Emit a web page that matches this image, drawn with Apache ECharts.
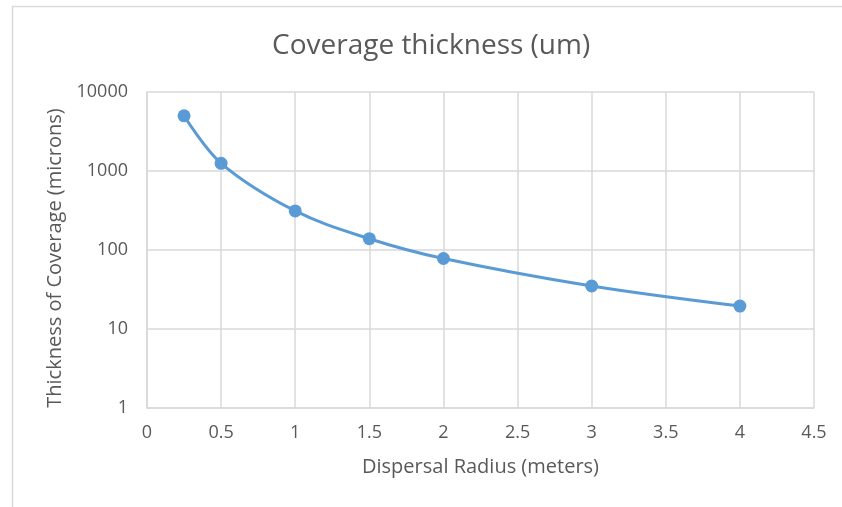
<!DOCTYPE html>
<html>
<head>
<meta charset="utf-8">
<script src="https://cdn.jsdelivr.net/npm/echarts@6/dist/echarts.min.js"></script>
<style>html,body{margin:0;padding:0;background:#fff;}#c{width:842px;height:507px;}</style>
</head>
<body>
<div id="c"></div>
<script>
const radius = [0.25, 0.5, 1, 1.5, 2, 3, 4];
const thickness = [5000, 1250, 312, 139, 78, 35, 19.5];
const titleText = 'Coverage thickness (um)';
const xName = 'Dispersal Radius (meters)';
const yName = 'Thickness of Coverage (microns)';

const chart = echarts.init(document.getElementById('c'), null, {renderer: 'canvas'});
const font = '"Open Sans", "Noto Sans", sans-serif';
const gray = '#595959';
const gridColor = '#d9d9d9';
chart.setOption({
  animation: false,
  textStyle: {fontFamily: font},
  graphic: [{
    type: 'rect', left: 10, top: 4, silent: true,
    shape: {x: 0, y: 0, width: 840, height: 515},
    style: {fill: 'none', stroke: gridColor, lineWidth: 1.5}
  }],
  title: {
    text: titleText, left: 267, top: 27,
    textStyle: {fontFamily: font, fontSize: 28, fontWeight: 'normal', color: gray}
  },
  grid: {left: 147, right: 28, top: 92, bottom: 99},
  xAxis: {
    type: 'value', min: 0, max: 4.5, interval: 0.5,
    name: xName, nameLocation: 'middle', nameGap: 49,
    nameTextStyle: {fontFamily: font, fontSize: 20, color: gray},
    axisLine: {show: true, lineStyle: {color: gridColor, width: 1.5}},
    axisTick: {show: false},
    axisLabel: {color: gray, fontSize: 18, margin: 16, fontFamily: font},
    splitLine: {show: true, lineStyle: {color: gridColor, width: 1.5}}
  },
  yAxis: {
    type: 'log', logBase: 10, min: 1, max: 10000,
    name: yName, nameLocation: 'middle', nameGap: 78, nameRotate: 90,
    nameTextStyle: {fontFamily: font, fontSize: 20, color: gray, padding: [0, 16, 0, 0]},
    axisLine: {show: true, lineStyle: {color: gridColor, width: 1.5}},
    axisTick: {show: false},
    axisLabel: {color: gray, fontSize: 18, margin: 19, fontFamily: font, formatter: v => String(v)},
    splitLine: {show: true, lineStyle: {color: gridColor, width: 1.5}},
    minorSplitLine: {show: false}
  },
  series: [{
    type: 'line', smooth: 0.35,
    data: radius.map((r, i) => [r, thickness[i]]),
    symbol: 'circle', symbolSize: 13,
    lineStyle: {color: '#5B9BD5', width: 3},
    itemStyle: {color: '#5B9BD5'}
  }]
});
</script>
</body>
</html>
